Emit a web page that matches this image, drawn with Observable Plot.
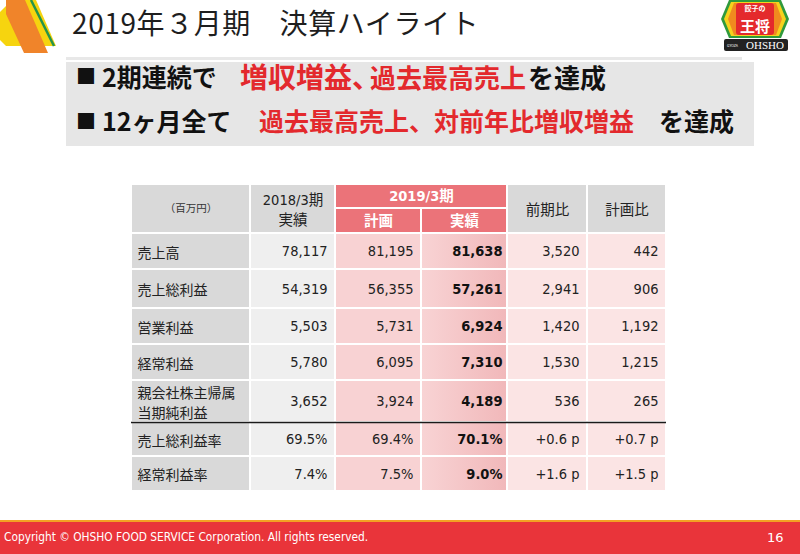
<!DOCTYPE html>
<html><head><meta charset="utf-8">
<script src="https://cdn.jsdelivr.net/npm/d3@7"></script>
<script src="https://cdn.jsdelivr.net/npm/@observablehq/plot@0.6"></script>
<style>
html,body{margin:0;padding:0;background:#fff;}
#slide{position:relative;width:800px;height:554px;overflow:hidden;font-family:"Noto Sans CJK JP","Noto Sans",sans-serif;background:#fff;}
.abs{position:absolute;white-space:nowrap;}
#title{left:72px;top:2px;font-size:28px;line-height:40px;letter-spacing:0.6px;color:#1e1e1e;font-weight:400;}
#rule{left:66px;top:57px;width:676px;height:3px;background:#e8e8e8;}
#banner{left:66px;top:62px;width:688px;height:84px;background:#e6e6e6;}
.b{font-weight:700;line-height:1;color:#111;}
.r{color:#e3292d;}
#table{left:131px;top:184px;}
#orange{left:0;top:520px;width:800px;height:2px;background:#f4a024;}
#footer{left:0;top:522px;width:800px;height:32px;background:#e9343a;}
#copy{left:4px;top:530px;font-family:"DejaVu Sans Condensed","DejaVu Sans",sans-serif;font-size:11.8px;line-height:15px;color:#fff;}
#page{left:767px;top:530px;font-family:"DejaVu Sans",sans-serif;font-size:13px;line-height:16px;color:#fff;}
</style></head><body>
<div id="slide">
  <svg class="abs" style="left:0;top:0" width="60" height="56">
    <polygon points="0,12 12,0 36,0 56,46 6,46 0,40" fill="#f6d40f"/>
    <polygon points="6,0 25,0 48,53 24,53 6,14" fill="#f0842a"/>
    <line x1="31" y1="0" x2="54" y2="46" stroke="#26944a" stroke-width="2.5"/>
  </svg>
  <div id="title" class="abs">2019年３月期　決算ハイライト</div>
  <div id="rule" class="abs"></div>
  <svg class="abs" style="left:721px;top:0" width="72" height="54">
    <polygon points="8,0 60,0 68,19 60,38 8,38 0,19" fill="#2f9a3c"/>
    <polygon points="10,2 58,2 65,19 58,36 10,36 3,19" fill="#f6d21c"/>
    <polygon points="13,3 55,3 61,19 55,35 13,35 7,19" fill="#f08b1f"/>
    <rect x="15" y="3" width="38" height="32" rx="3" fill="#e42a2c"/>
    <text x="34" y="11" font-size="7" fill="#fff" text-anchor="middle" font-weight="bold">餃子の</text>
    <text x="34" y="32" font-size="15" fill="#fff" text-anchor="middle" font-weight="bold">王将</text>
    <rect x="3" y="39" width="64" height="12" rx="2" fill="#222"/>
    <text x="6" y="47" font-size="3.5" fill="#fff">GYOZA</text>
    <text x="44" y="49" font-size="11" fill="#fff" text-anchor="middle" font-family="Liberation Serif">OHSHO</text>
  </svg>
  <div id="banner" class="abs"></div>
  <span class="abs b" style="left:76px;top:66px;font-size:20px;">■</span>
  <span class="abs b" style="left:102px;top:64px;font-size:25px;">2期連続で</span>
  <span class="abs b r" style="left:240px;top:62px;font-size:28px;">増収増益、</span>
  <span class="abs b r" style="left:370px;top:64px;font-size:26px;">過去最高売上</span>
  <span class="abs b" style="left:528px;top:64px;font-size:26px;">を達成</span>
  <span class="abs b" style="left:76px;top:111px;font-size:20px;">■</span>
  <span class="abs b" style="left:102px;top:108px;font-size:25px;">12ヶ月全て</span>
  <span class="abs b r" style="left:259px;top:108px;font-size:25px;">過去最高売上、対前年比増収増益</span>
  <span class="abs b" style="left:659px;top:108px;font-size:25px;">を達成</span>
  <div id="table" class="abs"></div>
  <div id="orange" class="abs"></div>
  <div id="footer" class="abs"></div>
  <div id="copy" class="abs">Copyright © OHSHO FOOD SERVICE Corporation. All rights reserved.</div>
  <div id="page" class="abs">16</div>
</div>
<script>
// ---- data ----
const metrics = ["売上高","売上総利益","営業利益","経常利益","親会社株主帰属\n当期純利益","売上総利益率","経常利益率"];
const isRate = [false,false,false,false,false,true,true];
const actual2018 = [78117,54319,5503,5780,3652,69.5,7.4];
const plan2019 = [81195,56355,5731,6095,3924,69.4,7.5];
const actual2019 = [81638,57261,6924,7310,4189,70.1,9.0];
const vsPrev = [3520,2941,1420,1530,536,0.6,1.6];
const vsPlan = [442,906,1192,1215,265,0.7,1.5];
const columnHeads = ["（百万円）","2018/3期\n実績","計画","実績","前期比","計画比"];
const groupHead = "2019/3期";

// ---- layout (scale units) ----
const colW = [119,85,86,86,80,79];
const rowH = [24,25,36,39,36,36,42,34,35];
const xs = Array.from(d3.cumsum([0, ...colW]));
const ys = Array.from(d3.cumsum([0, ...rowH]));
const W = xs[xs.length-1], H = ys[ys.length-1];

const GRAY = "#d9d9d9", LIGHT = "#efefef", RED = "#eb7379", PINK = "#f8d2d3", PALE = "#fbe4e4", GRAD = "url(#jg)";
const fmtInt = d3.format(",");
const fmtVal = (v, r) => isRate[r] ? v.toFixed(1) + "%" : fmtInt(v);
const fmtDiff = (v, r) => isRate[r] ? "+" + v.toFixed(1) + " p" : fmtInt(v);

// rects
const cells = [];
cells.push({x1: xs[0], x2: xs[1], y1: ys[0], y2: ys[2], fill: GRAY});
cells.push({x1: xs[1], x2: xs[2], y1: ys[0], y2: ys[2], fill: GRAY});
cells.push({x1: xs[2], x2: xs[4], y1: ys[0], y2: ys[1], fill: RED});
cells.push({x1: xs[2], x2: xs[3], y1: ys[1], y2: ys[2], fill: RED});
cells.push({x1: xs[3], x2: xs[4], y1: ys[1], y2: ys[2], fill: RED});
cells.push({x1: xs[4], x2: xs[5], y1: ys[0], y2: ys[2], fill: GRAY});
cells.push({x1: xs[5], x2: xs[6], y1: ys[0], y2: ys[2], fill: GRAY});
const colFill = [GRAY, LIGHT, PINK, GRAD, PALE, PALE];
metrics.forEach((m, r) => {
  colFill.forEach((f, c) => cells.push({x1: xs[c], x2: xs[c+1], y1: ys[r+2], y2: ys[r+3], fill: f}));
});

// texts
const mid = (a, b) => (a + b) / 2;
const darkHeads = [
  {x: mid(xs[1], xs[2]), y: ys[1], t: columnHeads[1]},
  {x: mid(xs[4], xs[5]), y: ys[1], t: columnHeads[4]},
  {x: mid(xs[5], xs[6]), y: ys[1], t: columnHeads[5]}
];
const unitHead = [{x: mid(xs[0], xs[1]), y: ys[1], t: columnHeads[0]}];
const whiteHeads = [
  {x: xs[3], y: mid(ys[0], ys[1]), t: groupHead},
  {x: mid(xs[2], xs[3]), y: mid(ys[1], ys[2]), t: columnHeads[2]},
  {x: mid(xs[3], xs[4]), y: mid(ys[1], ys[2]), t: columnHeads[3]}
];
const labels = metrics.map((m, r) => ({x: xs[0], y: mid(ys[r+2], ys[r+3]), t: m}));
const nums = [];
const bolds = [];
metrics.forEach((m, r) => {
  const y = mid(ys[r+2], ys[r+3]);
  nums.push({x: xs[2], y, t: fmtVal(actual2018[r], r)});
  nums.push({x: xs[3], y, t: fmtVal(plan2019[r], r)});
  bolds.push({x: xs[4], y, t: fmtVal(actual2019[r], r)});
  nums.push({x: xs[5], y, t: fmtDiff(vsPrev[r], r)});
  nums.push({x: xs[6], y, t: fmtDiff(vsPlan[r], r)});
});

const NUMFONT = "DejaVu Sans Condensed, DejaVu Sans, Noto Sans CJK JP, sans-serif";
const chart = Plot.plot({
  width: W, height: H,
  margin: 0,
  x: {domain: [0, W], range: [0, W], axis: null},
  y: {domain: [0, H], range: [0, H], axis: null},
  color: {type: "identity"},
  style: {fontFamily: "Noto Sans CJK JP, sans-serif", fontSize: "13px", color: "#222", background: "transparent", overflow: "visible"},
  marks: [
    Plot.rect(cells, {x1: "x1", x2: "x2", y1: "y1", y2: "y2", fill: "fill", inset: 1}),
    Plot.ruleY([ys[7]], {x1: 0, x2: W, stroke: "#1a1a1a", strokeWidth: 1.5}),
    Plot.text(darkHeads, {x: "x", y: "y", text: "t", fontSize: 14.5, lineHeight: 1.4, fill: "#222", fontFamily: NUMFONT}),
    Plot.text(unitHead, {x: "x", y: "y", text: "t", fontSize: 10.5, fill: "#333"}),
    Plot.text(whiteHeads, {x: "x", y: "y", text: "t", fontSize: 14.5, fontWeight: "bold", fill: "#fff", fontFamily: NUMFONT}),
    Plot.text(labels, {x: "x", y: "y", text: "t", textAnchor: "start", dx: 6, fontSize: 14, lineHeight: 1.4, fill: "#222"}),
    Plot.text(nums, {x: "x", y: "y", text: "t", textAnchor: "end", dx: -8, fontSize: 14.5, fill: "#222", fontFamily: NUMFONT}),
    Plot.text(bolds, {x: "x", y: "y", text: "t", textAnchor: "end", dx: -5, fontSize: 14.5, fontWeight: "bold", fill: "#111", fontFamily: NUMFONT})
  ]
});
d3.select(chart).insert("defs", ":first-child").html(
  '<linearGradient id="jg" x1="0" x2="1" y1="0" y2="0"><stop offset="0" stop-color="#f8d3d4"/><stop offset="1" stop-color="#f1b8ba"/></linearGradient>'
);
document.getElementById("table").appendChild(chart);
</script>
</body></html>
